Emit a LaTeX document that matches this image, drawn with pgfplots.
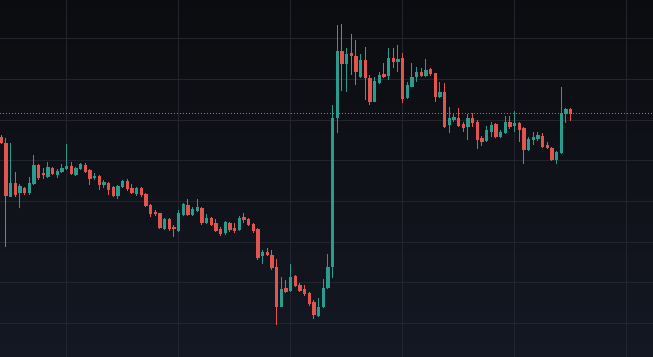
\documentclass[border=0pt]{standalone}
\usepackage{pgfplots}
\usepackage{pgfplotstable}
\pgfplotsset{compat=1.18}
\definecolor{upc}{HTML}{2A9C8E}
\definecolor{dnc}{HTML}{E0564F}
\definecolor{dotc}{HTML}{E8554F}
\definecolor{gridc}{HTML}{22252E}
\definecolor{bgtop}{HTML}{0B0C0F}
\definecolor{bgbot}{HTML}{141823}
\pgfplotstableread{
i o h l c
2 481 641 481 522
4 493 518 446 514
6 493 539 486 523
7 519 606 516 576
10 539 586 536 571
12 546 563 536 559
13 556 579 553 566
14 563 639 561 574
16 546 571 543 566
17 563 583 561 578
20 536 551 531 544
22 516 531 506 526
25 483 516 473 513
26 511 531 506 528
29 489 511 483 506
35 384 417 381 414
38 379 441 376 431
39 426 462 424 459
41 426 449 424 443
42 439 473 435 451
44 401 429 398 416
48 371 408 366 404
51 381 423 379 416
56 304 321 279 316
60 151 239 149 203
62 199 278 196 241
68 124 176 121 151
69 149 233 146 206
70 206 309 203 271
71 271 756 236 716
72 716 996 671 918
74 878 928 796 908
77 841 908 836 891
80 766 841 764 828
81 821 856 818 846
83 843 926 831 896
85 886 936 856 893
87 776 826 773 816
88 811 881 809 841
89 839 871 826 856
91 843 893 839 861
94 779 826 776 796
96 696 751 671 716
97 711 733 706 719
100 691 729 651 716
104 649 693 646 681
105 676 706 659 696
107 661 681 656 676
108 671 723 669 706
110 693 739 676 703
113 621 661 619 653
114 651 676 636 661
115 653 676 649 666
119 591 619 579 616
120 613 811 609 731
121 729 746 701 743
}\up
\pgfplotstableread{
i o h l c
0 661 666 639 641
1 641 657 331 483
3 523 556 481 486
5 506 511 486 493
8 576 578 531 536
9 553 566 533 546
11 566 571 546 549
15 573 584 546 548
18 576 581 553 556
19 561 563 516 533
21 544 546 501 516
23 523 526 486 501
24 509 513 479 483
27 529 533 499 503
28 506 519 489 491
30 506 511 481 486
31 489 493 449 453
32 456 459 419 429
33 434 441 423 428
34 431 433 383 386
36 413 416 379 383
37 391 396 359 383
40 456 474 424 426
43 446 451 396 401
45 416 421 393 396
46 401 413 376 379
47 383 389 363 369
49 401 406 376 381
50 386 401 371 379
52 421 433 401 411
53 413 416 393 396
54 398 401 373 379
55 383 386 291 296
57 316 326 303 306
58 306 321 261 266
59 271 293 96 151
61 206 231 191 196
63 243 245 209 213
64 216 221 196 199
65 203 216 183 189
66 193 196 153 159
67 166 171 113 126
73 918 998 798 878
75 911 968 846 904
76 904 951 816 856
78 891 931 771 836
79 836 846 756 766
82 848 881 838 841
84 896 926 866 886
86 896 913 761 773
90 856 866 839 843
92 863 866 843 848
93 851 853 766 779
95 796 823 686 689
98 716 746 689 693
99 699 706 676 686
101 716 731 691 701
102 706 711 623 651
103 656 663 633 646
106 698 701 656 661
109 706 723 683 691
111 703 706 646 681
112 686 691 579 621
116 663 671 626 631
117 636 646 623 626
118 626 631 588 591
122 743 746 709 730
}\down
\begin{document}
\begin{tikzpicture}
\begin{axis}[
  width=653bp, height=357bp, scale only axis,
  xmin=-0.268, xmax=139.65, ymin=0, ymax=1071,
  axis background/.style={top color=bgtop, bottom color=bgbot},
  axis line style={draw=none},
  xtick={14,38,62,86,110,134},
  ytick={101,223,345,467,589,711,833,955},
  xticklabels={}, yticklabels={},
  major tick length=0pt,
  grid=major,
  major grid style={draw=gridc, line width=0.8bp},
  clip=true,
]
\addplot[draw=dotc, line width=1.2bp, dash pattern=on 1.5bp off 1.5bp, forget plot] coordinates {(-1,730) (141,730)};
% wicks
\addplot[draw=none, mark=none, forget plot, error bars/.cd, y dir=plus, y explicit, error mark=none,
  error bar style={draw=upc, line width=1bp}]
  table[x=i, y=l, y error plus expr=\thisrow{h}-\thisrow{l}] {\up};
\addplot[draw=none, mark=none, forget plot, error bars/.cd, y dir=plus, y explicit, error mark=none,
  error bar style={draw=dnc, line width=1bp}]
  table[x=i, y=l, y error plus expr=\thisrow{h}-\thisrow{l}] {\down};
% bodies
\addplot[draw=none, mark=none, forget plot, error bars/.cd, y dir=plus, y explicit, error mark=none,
  error bar style={draw=upc, line width=3.4bp}]
  table[x=i, y=o, y error plus expr=\thisrow{c}-\thisrow{o}] {\up};
\addplot[draw=none, mark=none, forget plot, error bars/.cd, y dir=plus, y explicit, error mark=none,
  error bar style={draw=dnc, line width=3.4bp}]
  table[x=i, y=c, y error plus expr=\thisrow{o}-\thisrow{c}] {\down};
\end{axis}
\pgfresetboundingbox
\path[use as bounding box] (current axis.south west) rectangle (current axis.north east);
\end{tikzpicture}
\end{document}
